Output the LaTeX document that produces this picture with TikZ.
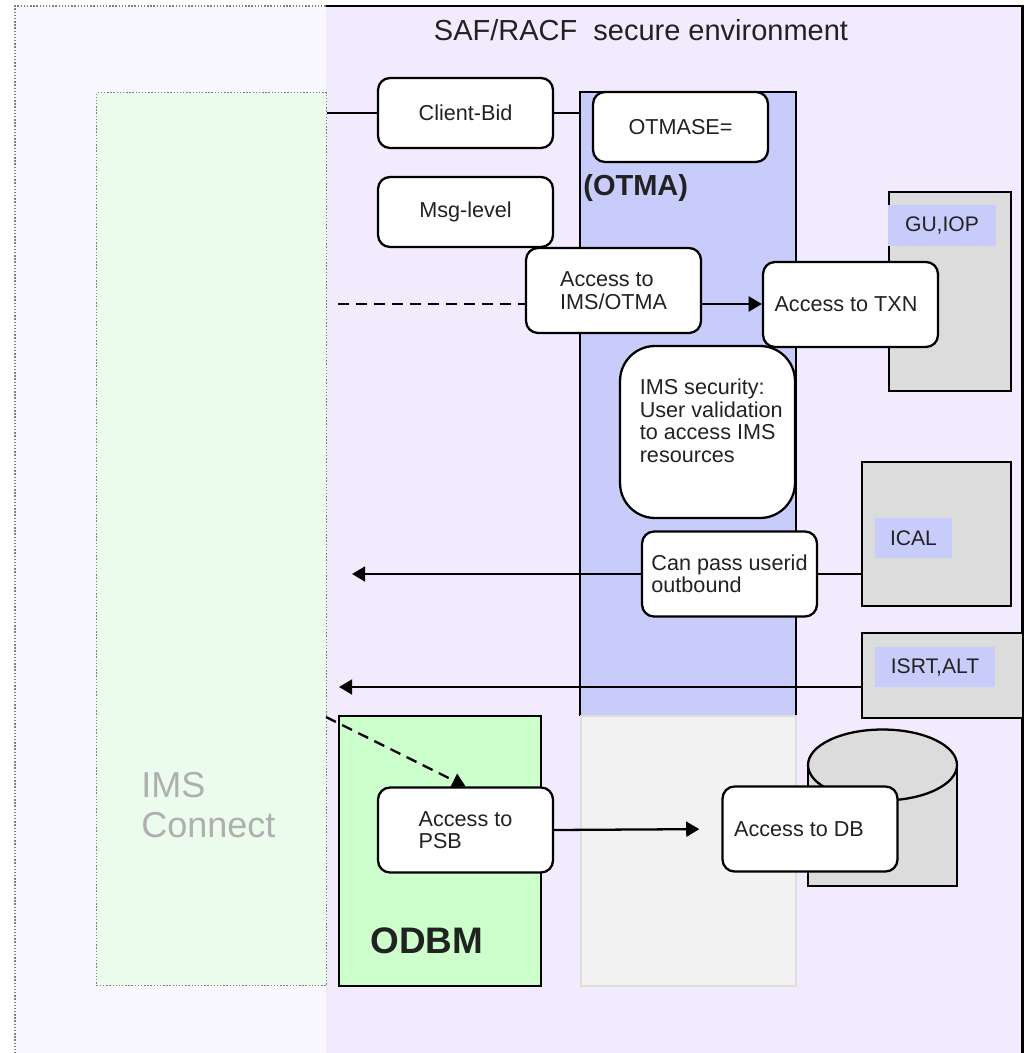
\documentclass[tikz,border=0pt]{standalone}
\usepackage{fontspec}
\setmainfont{Liberation Sans}
\usepackage{tikz}
\usetikzlibrary{arrows.meta}

\definecolor{safbg}{RGB}{242,234,253}
\definecolor{palebg}{RGB}{250,248,255}
\definecolor{connbg}{RGB}{236,252,236}
\definecolor{connfg}{RGB}{175,175,175}
\definecolor{otmabg}{RGB}{200,204,250}
\definecolor{odbmbg}{RGB}{204,255,204}
\definecolor{boxgray}{RGB}{220,220,220}
\definecolor{lowgray}{RGB}{242,242,242}
\definecolor{lowedge}{RGB}{222,222,222}
\definecolor{ink}{RGB}{34,34,34}

\tikzset{
  wire/.style={line width=1.3pt},
  flow/.style={wire, ->},
  dashline/.style={wire, dash pattern=on 0.22cm off 0.14cm},
  dots/.style={draw=gray, densely dotted, line width=0.8pt},
  region/.style={anchor=north west, inner sep=0pt},
  graybox/.style={region, draw, wire, fill=boxgray},
  box/.style={
    draw, wire, fill=white, rounded corners=0.24cm,
    minimum width=3.5cm, minimum height=1.7cm, align=left,
    text=ink, font=\fontsize{12.3}{12.8}\selectfont},
  tag/.style={fill=otmabg, inner sep=0pt, text=ink, font=\fontsize{12}{14}\selectfont}
  }

\begin{document}
\begin{tikzpicture}[x=0.02cm, y=-0.02cm, >={Triangle[length=7.5pt,width=8.5pt]}]
	\useasboundingbox (0,0) rectangle (1025,1053);
	\node[region, fill=palebg, minimum width=6.22cm, minimum height=20.94cm] (outer) at (15,6) {};
	\draw[dots] (outer.south west) |- (outer.north east);
	\node[region, fill=safbg, minimum width=13.92cm, minimum height=20.94cm] (saf) at (326,6) {};
	\draw[wire] (saf.north west) -| (saf.south east);
	\node[text=ink, font=\fontsize{16.5}{19}\selectfont] (saftitle) at (641,30) {SAF/RACF\ \ secure environment};

	\node[region, dots, fill=connbg, minimum width=4.6cm, minimum height=17.86cm] (imsconn) at (96,92) {};
	\node[anchor=north west, inner sep=0pt, align=left, text=connfg, font=\fontsize{20.5}{22.8}\selectfont] (imsconnlabel) at (141,772) {IMS\\Connect};

	\node[region, fill=otmabg, minimum width=4.3cm, minimum height=12.46cm] (otma) at (580,92) {};
	\draw[wire] (otma.south west) |- (otma.north east) -- (otma.south east);
	\node[region, fill=lowgray, draw=lowedge, line width=1pt, minimum width=4.3cm, minimum height=5.4cm] (otmalow) at (580,715) {};
	\node[region, draw, wire, fill=odbmbg, minimum width=4.04cm, minimum height=5.4cm] (odbm) at (338,715) {};
	\node[anchor=west, inner sep=0pt, text=ink, font=\bfseries\fontsize{16.5}{19}\selectfont] (otmalabel) at (583,188) {(OTMA)};
	\node[anchor=west, inner sep=0pt, text=ink, font=\bfseries\fontsize{21}{24}\selectfont] (odbmlabel) at (370,941) {ODBM};

	\node[graybox, minimum width=2.44cm, minimum height=3.98cm] (guiop) at (888,191) {};
	\node[graybox, minimum width=2.98cm, minimum height=2.88cm] (ical) at (861,461) {};
	\node[graybox, minimum width=3.22cm, minimum height=1.7cm] (isrt) at (861,632) {};
	\node[tag, minimum width=2.16cm, minimum height=0.82cm] (guioptag) at (942,225.5) {GU,IOP};
	\node[tag, minimum width=1.54cm, minimum height=0.8cm] (icaltag) at (913.5,538) {ICAL};
	\node[tag, minimum width=2.4cm, minimum height=0.8cm] (isrttag) at (935,667) {ISRT,ALT};

	\draw[wire, fill=boxgray] (808,765) rectangle (957,886);
	\draw[wire, fill=boxgray] (882.5,765) ellipse [x radius=1.49cm, y radius=0.71cm];

	\node[box, minimum height=1.4cm] (clientbid) at (465.5,113) {Client-Bid};
	\node[box, minimum height=1.4cm] (msglevel) at (465.5,212) {Msg-level};
	\node[box, minimum height=1.4cm] (otmase) at (680.5,127) {OTMASE=};
	\node[box] (imsotma) at (613.5,290.5) {Access to\\IMS/OTMA};
	\node[box] (txn) at (850.5,304.5) {Access to TXN\hspace*{0.18cm}};
	\node[box, rounded corners=0.7cm, minimum height=3.44cm] (imssec) at (707.5,432) {\hspace*{0.15cm}IMS security:\\\hspace*{0.15cm}User validation\\\hspace*{0.15cm}to access IMS\\\hspace*{0.15cm}resources\\\mbox{}};
	\node[box] (userid) at (729.5,574) {Can pass userid\\outbound};
	\node[box] (psb) at (465.5,830) {Access to\\PSB};
	\node[box] (db) at (810,829) {Access to DB\hspace*{0.44cm}};

	\coordinate (dashin) at (338,304);
	\coordinate (ret1) at (352,574);
	\coordinate (ret2) at (339,687);
	\coordinate (dashodbm) at (326,717);
	\draw[wire] (clientbid.west -| imsconn.east) to (clientbid.west);
	\draw[wire] (clientbid.east) to (clientbid.east -| otma.west);
	\draw[dashline] (dashin) to (dashin -| imsotma.west);
	\draw[flow] (dashin -| imsotma.east) to (dashin -| txn.west);
	\draw[flow] (userid.west) to (ret1);
	\draw[wire] (userid.east) to (userid.east -| ical.west);
	\draw[flow] (ret2 -| isrt.west) to (ret2);
	\draw[flow, dashline] (dashodbm) to (psb.north);
	\draw[flow, shorten >=0.44cm] (psb.east) to (db.west);
\end{tikzpicture}
\end{document}
